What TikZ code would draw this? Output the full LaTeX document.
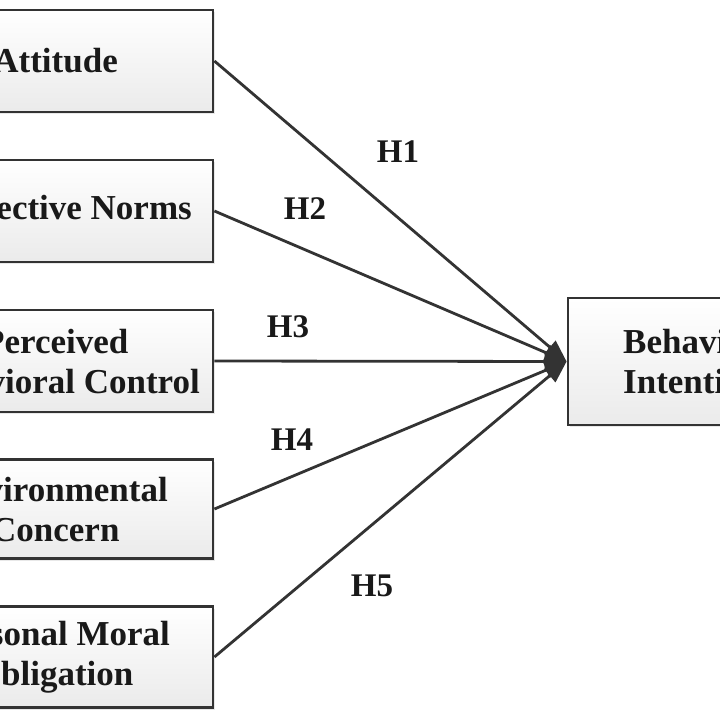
\documentclass[tikz,border=0pt]{standalone}
\usepackage{fontspec}
\setmainfont{Liberation Serif}
\usetikzlibrary{arrows.meta,shadows}
\begin{document}
\begin{tikzpicture}[x=1pt,y=-1pt,
  box/.style={draw=black!80, line width=2.8pt, inner sep=0pt,
    top color=white, bottom color=black!8,
    drop shadow={shadow xshift=2pt, shadow yshift=-2pt, opacity=0.18}},
  lbl/.style={font=\fontsize{35}{40}\selectfont\bfseries, inner sep=0pt, text=black!90},
  hyp/.style={font=\fontsize{33}{38}\selectfont\bfseries, inner sep=0pt, text=black!90},
  conn/.style={draw=black!80, line width=2.8pt,
    -{Triangle[length=22pt,width=17pt]}}]
\useasboundingbox (0,0) rectangle (720,720);
\clip (0,0) rectangle (720,720);
\fill[white] (0,0) rectangle (720,720);

% predictor boxes (their left parts run off the page)
\node[box, minimum width=326pt, minimum height=102pt] (att) at (50,61) {};
\node[box, minimum width=326pt, minimum height=102pt] (sn)  at (50,211) {};
\node[box, minimum width=326pt, minimum height=102pt] (pbc) at (50,361) {};
\node[box, minimum width=326pt, minimum height=99pt]  (ec)  at (50,509) {};
\node[box, minimum width=326pt, minimum height=101pt] (pmo) at (50,657) {};

% outcome box
\node[box, minimum width=260pt, minimum height=127pt] (bi) at (698,361.5) {};

% box texts
\node[lbl, anchor=east] (attT) at (118,61) {Attitude};
\node[lbl, anchor=east] (snT)  at (192,211) {Subjective Norms};
\node[lbl, anchor=east, align=center] (pbcT) at (200,362) {Perceived\\Behavioral Control};
\node[lbl, anchor=east, align=center] (ecT)  at (168,510) {Environmental\\Concern};
\node[lbl, anchor=east, align=center] (pmoT) at (170,657) {Personal Moral\\Obligation};
\node[lbl, anchor=west, align=left]   (biT)  at (623,362) {Behavioral\\Intention};

% hypothesised paths
\draw[conn] (att.east) -- (bi.west);
\draw[conn] (sn.east)  -- (bi.west);
\draw[conn] (pbc.east) -- (bi.west);
\draw[conn] (ec.east)  -- (bi.west);
\draw[conn] (pmo.east) -- (bi.west);

% path labels
\node[hyp] (h1) at (398,152) {H1};
\node[hyp] (h2) at (305,209) {H2};
\node[hyp] (h3) at (288,327) {H3};
\node[hyp] (h4) at (292,440) {H4};
\node[hyp] (h5) at (372,586) {H5};
\end{tikzpicture}
\end{document}
